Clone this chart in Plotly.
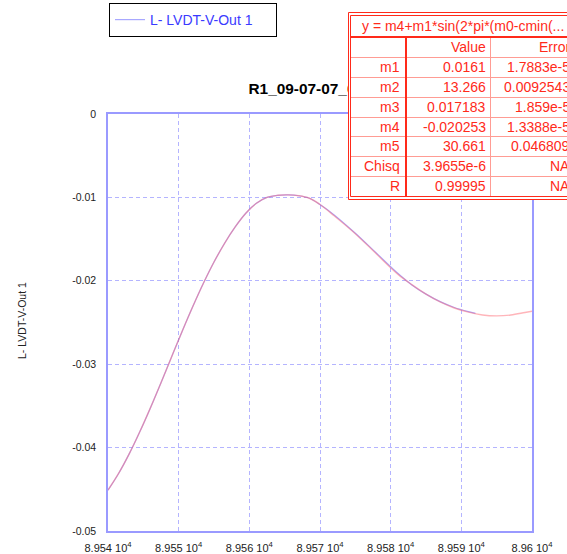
import plotly.graph_objects as go

# ---- measured trace: L- LVDT-V-Out 1 ----
data_x = [89540, 89541.5, 89543, 89544.5, 89546, 89547.5, 89549, 89550.5, 89552,
          89553.5, 89555, 89556.5, 89558, 89559.5, 89561, 89562.5, 89564, 89565.5,
          89567, 89568.5, 89570, 89572, 89575, 89578, 89581, 89583, 89585, 89587,
          89589, 89591, 89592]
data_y = [-0.0451, -0.0431, -0.04075, -0.0381, -0.03524, -0.03222, -0.02912, -0.02605,
          -0.02309, -0.0203, -0.01775, -0.0155, -0.01354, -0.0119, -0.0107, -0.0100,
          -0.00975, -0.0097, -0.0098, -0.0101, -0.01085, -0.0121, -0.0143, -0.0167,
          -0.0191, -0.0205, -0.0216, -0.0225, -0.0232, -0.0237, -0.0239]

# ---- fitted curve ----
fit_x = [89540, 89541.5, 89543, 89544.5, 89546, 89547.5, 89549, 89550.5, 89552,
         89553.5, 89555, 89556.5, 89558, 89559.5, 89561, 89562.5, 89564, 89565.5,
         89567, 89568.5, 89570, 89572, 89575, 89578, 89581, 89583, 89585, 89587,
         89589, 89591, 89593, 89595, 89597, 89599, 89600]
fit_y = [-0.0451, -0.0431, -0.04075, -0.0381, -0.03524, -0.03222, -0.02912, -0.02605,
         -0.02309, -0.0203, -0.01775, -0.0155, -0.01354, -0.0119, -0.0107, -0.0100,
         -0.00975, -0.0097, -0.0098, -0.0101, -0.01085, -0.0122, -0.01435, -0.0168,
         -0.0192, -0.02046, -0.0216, -0.02254, -0.02326, -0.02376, -0.0241, -0.0242,
         -0.0241, -0.0238, -0.02365]

x_tick_vals = [89540, 89550, 89560, 89570, 89580, 89590, 89600]
x_tick_text = ["8.954 10<sup>4</sup>", "8.955 10<sup>4</sup>", "8.956 10<sup>4</sup>",
               "8.957 10<sup>4</sup>", "8.958 10<sup>4</sup>", "8.959 10<sup>4</sup>",
               "8.96 10<sup>4</sup>"]
y_tick_vals = [0, -0.01, -0.02, -0.03, -0.04, -0.05]
y_tick_text = ["0", "-0.01", "-0.02", "-0.03", "-0.04", "-0.05"]

series_name = "L- LVDT-V-Out 1"
title_text = "R1_09-07-07_001"

# ---- curve-fit results box ----
fit_equation = "y = m4+m1*sin(2*pi*(m0-cmin(..."
col_headers = ["", "Value", "Error"]
param_names = ["m1", "m2", "m3", "m4", "m5", "Chisq", "R"]
param_values = ["0.0161", "13.266", "0.017183", "-0.020253", "30.661", "3.9655e-6", "0.99995"]
param_errors = ["1.7883e-5", "0.0092543", "1.859e-5", "1.3388e-5", "0.046809", "NA", "NA"]

# ---- page geometry ----
W, H = 567, 554
ML, MR, MT, MB = 108, 35, 114, 23
PW, PH = W - ML - MR, H - MT - MB
FONT = "Liberation Sans, Arial, sans-serif"
RED = "#ff2a1a"
PINK = "#ff9c94"


def px(xp):
    return (xp - ML) / PW


def py(yp):
    return (H - MB - yp) / PH


def seg(x0, y0, x1, y1, color, width):
    return dict(type="line", xref="paper", yref="paper",
                x0=px(x0), y0=py(y0), x1=px(x1), y1=py(y1),
                line=dict(color=color, width=width))


def rect(x0, y0, x1, y1, color, fill="rgba(0,0,0,0)"):
    return dict(type="rect", xref="paper", yref="paper",
                x0=px(x0), y0=py(y0), x1=px(x1), y1=py(y1),
                line=dict(color=color, width=1), fillcolor=fill)


def label(text, x, y, anchor="right", size=14, color=RED, **kw):
    return dict(xref="paper", yref="paper", x=px(x), y=py(y),
                xanchor=anchor, yanchor="middle", text=text, showarrow=False,
                borderpad=0, borderwidth=0,
                font=dict(family=FONT, size=size, color=color), **kw)


fig = go.Figure()
fig.add_trace(go.Scatter(x=data_x, y=data_y, mode="lines", name=series_name,
                         line=dict(color="rgb(110,110,255)", width=1.2, shape="spline"),
                         opacity=0.6))
fig.add_trace(go.Scatter(x=fit_x, y=fit_y, mode="lines", showlegend=False,
                         line=dict(color="rgb(255,110,120)", width=1.4, shape="spline"),
                         opacity=0.5))

shapes = []
# chart title, placed in the shape layer so the results box sits on top of it
shapes.append(dict(type="rect", xref="paper", yref="paper",
                   x0=px(245.5), x1=px(420), y0=py(95), y1=py(80),
                   line=dict(color="rgba(0,0,0,0)", width=0),
                   fillcolor="rgba(0,0,0,0)",
                   label=dict(text="<b>" + title_text + "</b>", textposition="middle left",
                              padding=0, font=dict(family=FONT, size=15.4, color="black"))))

# results box: frame, double border and rules
HEAD_B = 37
ROW_H = 19.9
RIGHT = 590
shapes.append(rect(348.5, 12.5, RIGHT, 199.5, RED, fill="white"))
shapes.append(rect(350.5, 15.5, RIGHT, 196.5, RED))
for k in range(1, 8):
    yk = round(HEAD_B + ROW_H * k) + 0.5
    shapes.append(seg(351, yk, RIGHT, yk, PINK, 1))
shapes.append(seg(490.5, HEAD_B + 1, 490.5, 196, PINK, 1))
shapes.append(seg(351, HEAD_B, RIGHT, HEAD_B, RED, 2))
shapes.append(seg(406, HEAD_B, 406, 196, RED, 2))

ann = []
# y-axis title
ann.append(label(series_name, 22, 321, anchor="center", size=10.5, color="#222222",
                 textangle=-90))
# results box: text
ann.append(label(fit_equation, 362, 26.5, anchor="left"))
col_right = [400, 486, 570]
rows = [col_headers] + [[n, v, e] for n, v, e in zip(param_names, param_values, param_errors)]
for r, row in enumerate(rows):
    yc = HEAD_B + ROW_H * (r + 0.5)
    for c, txt in enumerate(row):
        if txt:
            ann.append(label(txt, col_right[c], yc))

axis_common = dict(showgrid=True, gridcolor="#b4b4ff", griddash="4px,3px", gridwidth=1,
                   showline=True, linecolor="#9a9aff", linewidth=1.5, mirror=True,
                   zeroline=False, ticks="outside", tickcolor="rgba(0,0,0,0)")

fig.update_layout(
    width=W, height=H,
    margin=dict(l=ML, r=MR, t=MT, b=MB, autoexpand=False),
    paper_bgcolor="white", plot_bgcolor="white",
    font=dict(family=FONT, color="#222222"),
    xaxis=dict(range=[89540, 89600], tickvals=x_tick_vals, ticktext=x_tick_text,
               ticklen=6, tickfont=dict(size=11, color="#222222"), **axis_common),
    yaxis=dict(range=[-0.05, 0], tickvals=y_tick_vals, ticktext=y_tick_text,
               ticklen=8, tickfont=dict(size=10.5, color="#222222"), **axis_common),
    showlegend=True,
    legend=dict(x=px(109), y=py(3), xanchor="left", yanchor="top",
                orientation="h", entrywidth=121,
                bgcolor="white", bordercolor="black", borderwidth=1,
                font=dict(family=FONT, size=14, color="#3a3aff")),
    shapes=shapes,
    annotations=ann,
)

fig.write_html("out.html")
